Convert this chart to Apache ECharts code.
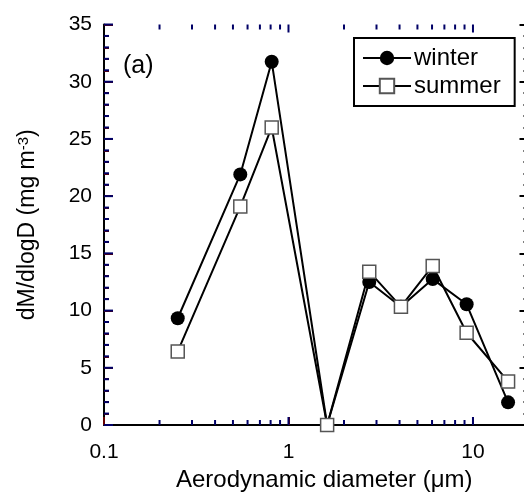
<!DOCTYPE html>
<html>
<head>
<meta charset="utf-8">
<script src="https://cdn.jsdelivr.net/npm/echarts@6/dist/echarts.min.js"></script>
<style>html,body{margin:0;padding:0;background:#fff}#c{width:524px;height:493px}</style>
</head>
<body>
<div id="c"></div>
<script>
var diameters = [0.251, 0.548, 0.811, 1.62, 2.74, 4.07, 6.05, 9.24, 15.5];
var winter = [9.33, 21.9, 31.75, 0, 12.5, 10.34, 12.75, 10.55, 1.98];
var summer = [6.43, 19.1, 26.0, 0, 13.4, 10.34, 13.9, 8.06, 3.81];
var xMinorTicks = [0.2, 0.3, 0.4, 0.5, 0.6, 0.7, 0.8, 0.9, 2, 3, 4, 5, 6, 7, 8, 9];
var xMajorLabels = [0.1, 1, 10];
var yMajorTicks = [0, 5, 10, 15, 20, 25, 30, 35];
var yMinorTicks = [1, 2, 3, 4, 6, 7, 8, 9, 11, 12, 13, 14, 16, 17, 18, 19, 21, 22, 23, 24, 26, 27, 28, 29, 31, 32, 33, 34];

var FONT = 'Liberation Sans';
function pairs(xs, ys) { return xs.map(function (x, i) { return [x, ys[i]]; }); }
function isMajorX(v) { return xMajorLabels.some(function (m) { return Math.abs(m - v) < 1e-9; }); }

var chart = echarts.init(document.getElementById('c'));
var labelText = {
  type: 'text', left: 123, top: 54, z: 10,
  style: {text: '(a)', fontFamily: FONT, fontSize: 25, fill: '#000'}
};
chart.setOption({
  animation: false,
  grid: {left: 104, top: 24.5, right: -4.5, bottom: 68, outerBoundsMode: 'none'},
  legend: {
    orient: 'vertical', left: 354, top: 38,
    data: ['winter', 'summer'],
    borderColor: '#000', borderWidth: 2, borderRadius: 0,
    padding: [8, 14, 8, 8], itemGap: 4,
    itemWidth: 48, itemHeight: 18,
    textStyle: {fontFamily: FONT, fontSize: 24, color: '#000', padding: [0, 0, 0, -2]}
  },
  xAxis: {
    type: 'log', logBase: 10, min: 0.1, max: 20, position: 'bottom',
    splitLine: {show: false},
    axisLine: {show: true, lineStyle: {color: '#000', width: 2}},
    axisTick: {show: true, inside: true, length: 8, lineStyle: {color: '#600', width: 2}},
    name: 'Aerodynamic diameter (\u03bcm)', nameLocation: 'middle', nameGap: 40,
    nameTextStyle: {fontFamily: FONT, fontSize: 24, color: '#000', verticalAlign: 'top', padding: [0, 0, 0, 16]},
    axisLabel: {
      fontFamily: FONT, fontSize: 21, color: '#000', margin: 17,
      formatter: function (v) { return isMajorX(v) ? String(v) : ''; }
    }
  },
  yAxis: [
    {
      type: 'value', min: 0, max: 35, interval: 5,
      splitLine: {show: false},
      axisLine: {show: true, lineStyle: {color: '#000', width: 2}},
      axisTick: {show: true, inside: true, length: 9, lineStyle: {color: '#600', width: 2}},
      minorTick: {show: true, splitNumber: 5, length: 5, lineStyle: {color: '#600', width: 2}},
      name: '{t|dM/dlogD (mg m}{s|-3}{t|)}', nameLocation: 'middle', nameGap: 65, nameRotate: 90,
      nameTextStyle: {
        rich: {
          t: {fontFamily: FONT, fontSize: 23, color: '#000'},
          s: {fontFamily: FONT, fontSize: 15, color: '#000', verticalAlign: 'top', padding: [0, 0, 8, 0]}
        }
      },
      axisLabel: {fontFamily: FONT, fontSize: 21, color: '#000', margin: 12}
    },
    {
      type: 'value', min: 0, max: 35, interval: 5, position: 'right',
      splitLine: {show: false},
      axisLine: {show: true, lineStyle: {color: '#000', width: 2}},
      axisTick: {show: true, inside: true, length: 9, lineStyle: {color: '#000', width: 2}},
      minorTick: {show: true, splitNumber: 5, length: 5, lineStyle: {color: '#000', width: 2}},
      axisLabel: {show: false}
    }
  ],
  graphic: [labelText],
  series: [
    {
      name: 'winter', type: 'line',
      data: pairs(diameters, winter),
      symbol: 'circle', symbolSize: 14,
      lineStyle: {color: '#000', width: 2},
      itemStyle: {color: '#000', borderColor: '#000', borderWidth: 0}
    },
    {
      name: 'summer', type: 'line',
      data: pairs(diameters, summer),
      symbol: 'rect', symbolSize: 13,
      lineStyle: {color: '#000', width: 2},
      itemStyle: {color: '#fff', borderColor: '#555', borderWidth: 1.5}
    }
  ]
});

// Extra tick marks positioned through the chart's own coordinate conversion
function px(x, y) { return chart.convertToPixel({xAxisIndex: 0, yAxisIndex: 0}, [x, y]); }
var marks = [labelText];
function addRect(x, y, w, h) {
  marks.push({type: 'rect', z: 100, silent: true, shape: {x: x, y: y, width: w, height: h}, style: {fill: '#006'}});
}
xMinorTicks.forEach(function (v) {
  var b = px(v, 0), t = px(v, 35);
  addRect(b[0] - 1, b[1] - 5, 2, 5);
  addRect(t[0] - 1, t[1], 2, 5);
});
[1, 10].forEach(function (v) {
  var b = px(v, 0), t = px(v, 35);
  addRect(b[0] - 1, b[1] - 8, 2, 8);
  addRect(t[0] - 1, t[1], 2, 8);
});
yMajorTicks.forEach(function (v) { var p = px(0.1, v); addRect(p[0], p[1] - 1, 9, 2); });
yMinorTicks.forEach(function (v) { var p = px(0.1, v); addRect(p[0], p[1] - 1, 5, 2); });
chart.setOption({graphic: marks});
</script>
</body>
</html>
